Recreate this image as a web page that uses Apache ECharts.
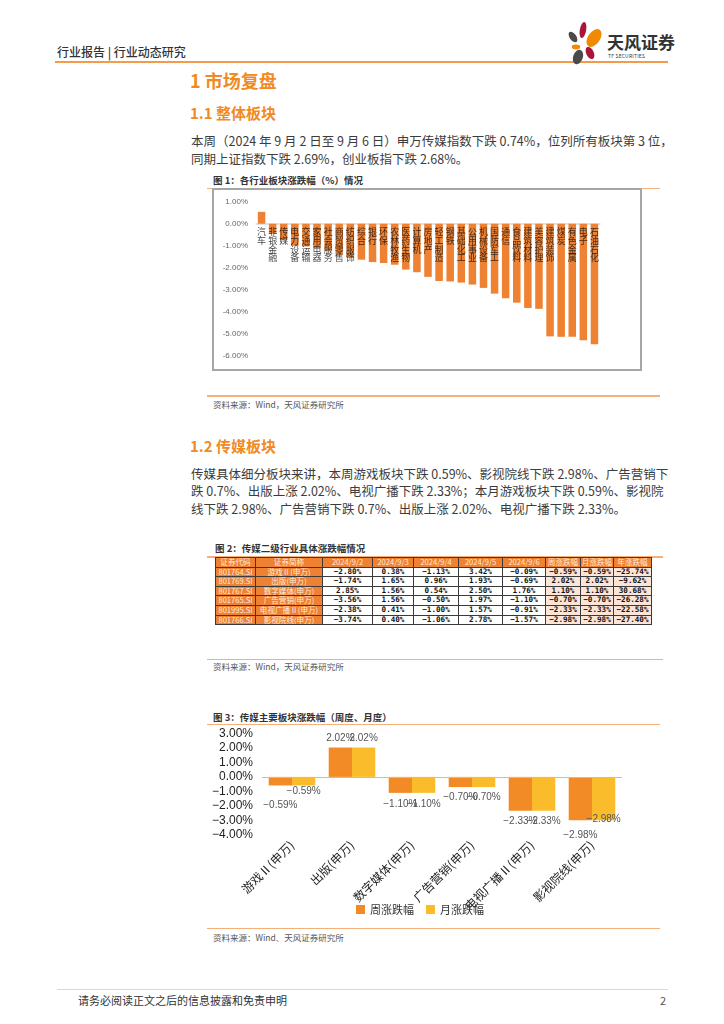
<!DOCTYPE html>
<html><head><meta charset="utf-8">
<script src="https://cdn.jsdelivr.net/npm/echarts@6/dist/echarts.min.js"></script>
<style>
html,body{margin:0;padding:0;background:#fff;}
body{width:724px;height:1024px;position:relative;overflow:hidden;font-family:"Noto Sans CJK SC","Noto Sans",sans-serif;color:#333;}
.abs{position:absolute;white-space:nowrap;}
.h1{color:#F08A24;font-weight:bold;font-size:18px;line-height:20px;}
.h2{color:#F08A24;font-weight:bold;font-size:15px;line-height:18px;}
.p{font-size:12.5px;line-height:18px;color:#3c3c3c;}
.just{text-align:justify;text-align-last:justify;}
.cap{font-size:9.5px;font-weight:bold;line-height:12px;color:#333;}
.src{font-size:8.5px;line-height:12px;color:#555;}
.oline{position:absolute;height:1.5px;background:#F5B07A;}
table{border-collapse:collapse;table-layout:fixed;font-size:7.6px;}
td{border:0.8px solid #3a3a3a;height:8.6px;line-height:8.6px;padding:0;text-align:center;overflow:hidden;white-space:nowrap;}
td.o{background:#EE8132;color:#FDEBDD;}
td.w{background:#fff;color:#111;font-weight:bold;font-family:"DejaVu Sans Mono",monospace;}
td.k{background:#FCE4D6;color:#111;font-weight:bold;font-family:"DejaVu Sans Mono",monospace;}
</style></head>
<body>
<!-- header -->
<div class="abs" style="left:57px;top:44px;font-size:12px;line-height:16px;color:#333;font-weight:500;">行业报告 | 行业动态研究</div>
<div class="abs" style="left:55px;top:61px;width:613px;height:2px;background:#F39A4C;"></div>
<svg class="abs" style="left:564px;top:18px" width="44" height="48" viewBox="564 18 44 48">
  <ellipse cx="583" cy="30" rx="3.2" ry="8" fill="#A8163A" transform="rotate(10 583 30)"/>
  <ellipse cx="594" cy="38" rx="6" ry="10" fill="#F08A00" transform="rotate(35 594 38)"/>
  <ellipse cx="573" cy="37" rx="3.3" ry="6" fill="#4A4A4A" transform="rotate(-35 573 37)"/>
  <ellipse cx="576" cy="47" rx="4.2" ry="2.4" fill="#F08A00"/>
  <ellipse cx="590" cy="53" rx="3.8" ry="6.5" fill="#A8163A" transform="rotate(-25 590 53)"/>
  <ellipse cx="578" cy="57" rx="4.8" ry="7.5" fill="#4A4A4A" transform="rotate(20 578 57)"/>
</svg>
<div class="abs" style="left:607px;top:32px;font-size:17px;line-height:20px;font-weight:bold;color:#333;">天风证券</div>
<div class="abs" style="left:608px;top:53px;font-size:5px;line-height:6px;color:#333;letter-spacing:0.2px;">TF SECURITIES</div>

<!-- section 1 -->
<div class="abs h1" style="left:190px;top:70px;">1 市场复盘</div>
<div class="abs h2" style="left:190px;top:104px;">1.1 整体板块</div>
<div class="abs p just" style="left:191px;top:132px;width:466px;">本周（2024 年 9 月 2 日至 9 月 6 日）申万传媒指数下跌 0.74%，位列所有板块第 3 位，</div>
<div class="abs p" style="left:191px;top:149.5px;">同期上证指数下跌 2.69%，创业板指下跌 2.68%。</div>

<div class="abs cap" style="left:213px;top:174px;">图 1：各行业板块涨跌幅（%）情况</div>
<div class="oline" style="left:207px;top:187.5px;width:453px;"></div>
<div class="abs" style="left:212px;top:188px;width:426px;height:179px;border:2px solid #A6A6A6;background:#fff;"></div>
<div id="c1" class="abs" style="left:214px;top:190px;width:426px;height:179px;"></div>
<div class="oline" style="left:207px;top:395px;width:453px;"></div>
<div class="abs src" style="left:213px;top:397.5px;">资料来源：Wind，天风证券研究所</div>

<!-- section 1.2 -->
<div class="abs h2" style="left:190px;top:437px;">1.2 传媒板块</div>
<div class="abs p just" style="left:191px;top:464.5px;width:466px;">传媒具体细分板块来讲，本周游戏板块下跌 0.59%、影视院线下跌 2.98%、广告营销下</div>
<div class="abs p just" style="left:191px;top:482px;width:466px;">跌 0.7%、出版上涨 2.02%、电视广播下跌 2.33%；本月游戏板块下跌 0.59%、影视院</div>
<div class="abs p" style="left:191px;top:499.5px;">线下跌 2.98%、广告营销下跌 0.7%、出版上涨 2.02%、电视广播下跌 2.33%。</div>

<div class="abs cap" style="left:215px;top:542px;">图 2：传媒二级行业具体涨跌幅情况</div>
<div class="oline" style="left:207px;top:556px;width:456px;"></div>
<div id="tbl" class="abs" style="left:215px;top:557px;"></div>
<div class="oline" style="left:207px;top:658.5px;width:456px;"></div>
<div class="abs src" style="left:213px;top:660px;">资料来源：Wind，天风证券研究所</div>

<div class="abs cap" style="left:213px;top:711px;">图 3：传媒主要板块涨跌幅（周度、月度）</div>
<div class="oline" style="left:207px;top:723.5px;width:453px;"></div>
<div id="c3" class="abs" style="left:200px;top:726px;width:440px;height:200px;"></div>
<div class="oline" style="left:207px;top:927.5px;width:453px;"></div>
<div class="abs src" style="left:213px;top:931px;">资料来源：Wind、天风证券研究所</div>

<!-- footer -->
<div class="abs" style="left:57px;top:989px;width:611px;height:1px;background:#D9D9D9;"></div>
<div class="abs" style="left:78px;top:992px;font-size:11px;line-height:16px;color:#333;">请务必阅读正文之后的信息披露和免责申明</div>
<div class="abs" style="left:660px;top:992px;font-size:11px;line-height:16px;color:#555;">2</div>

<script>
// ---- Figure 1 data ----
var industries = ['汽车','非银金融','传媒','电力设备','交通运输','家用电器','社会服务','商贸零售','纺织服饰','综合','银行','环保','农林牧渔','医药生物','计算机','房地产','轻工制造','钢铁','基础化工','公用事业','机械设备','国防军工','通信','食品饮料','建筑材料','美容护理','建筑装饰','煤炭','有色金属','电子','石油石化'];
var industryChange = [0.54,-0.45,-0.74,-1.00,-1.03,-1.10,-1.22,-1.40,-1.55,-1.63,-1.74,-1.78,-1.86,-2.08,-2.20,-2.41,-2.60,-2.62,-2.67,-2.76,-2.91,-3.17,-3.38,-3.58,-3.82,-3.86,-5.11,-5.13,-5.13,-5.29,-5.47];

// ---- Figure 2 table data ----
var tableHeader = ['证券代码','证券简称','2024/9/2','2024/9/3','2024/9/4','2024/9/5','2024/9/6','周涨跌幅','月涨跌幅','年涨跌幅'];
var codes = ['801764.SI','801769.SI','801767.SI','801765.SI','801995.SI','801766.SI'];
var shortNames = ['游戏Ⅱ(申万)','出版(申万)','数字媒体(申万)','广告营销(申万)','电视广播Ⅱ(申万)','影视院线(申万)'];
var d0902 = ['-2.80%','-1.74%','2.85%','-3.56%','-2.38%','-3.74%'];
var d0903 = ['0.38%','1.65%','1.56%','1.56%','0.41%','0.40%'];
var d0904 = ['-1.13%','0.96%','0.54%','-0.50%','-1.00%','-1.06%'];
var d0905 = ['3.42%','1.93%','2.50%','1.97%','1.57%','2.78%'];
var d0906 = ['-0.09%','-0.69%','1.76%','-1.10%','-0.91%','-1.57%'];
var weekChg = ['-0.59%','2.02%','1.10%','-0.70%','-2.33%','-2.98%'];
var monthChg = ['-0.59%','2.02%','1.10%','-0.70%','-2.33%','-2.98%'];
var yearChg = ['-25.74%','-9.62%','30.68%','-26.28%','-22.58%','-27.40%'];

// ---- Figure 3 data ----
var sectors = ['游戏Ⅱ(申万)','出版(申万)','数字媒体(申万)','广告营销(申万)','电视广播Ⅱ(申万)','影视院线(申万)'];
var weekly = [-0.59,2.02,-1.10,-0.70,-2.33,-2.98];
var monthly = [-0.59,2.02,-1.10,-0.70,-2.33,-2.98];

// label distances (styling only)
var weekLabelDist = [15,4,6,5.5,6,10];
var monthLabelDist = [1,4,6,5.5,6,-6];

// build table
(function(){
  var colW = [40,67,50,41,45,44,43,35,33,38];
  var h = '<table style="width:436px"><colgroup>';
  colW.forEach(function(w){ h += '<col style="width:'+w+'px">'; });
  h += '</colgroup><tr>';
  tableHeader.forEach(function(t){ h += '<td class="o">'+t+'</td>'; });
  h += '</tr>';
  function fm(s){ return s.replace('-','−'); }
  for (var i=0;i<codes.length;i++){
    h += '<tr><td class="o">'+codes[i]+'</td><td class="o">'+shortNames[i]+'</td>';
    [d0902,d0903,d0904,d0905,d0906].forEach(function(a){ h += '<td class="w">'+fm(a[i])+'</td>'; });
    [weekChg,monthChg,yearChg].forEach(function(a){ h += '<td class="k">'+fm(a[i])+'</td>'; });
    h += '</tr>';
  }
  h += '</table>';
  document.getElementById('tbl').innerHTML = h;
})();

var cjk = '"Noto Sans CJK SC","Noto Sans",sans-serif';

// chart 1
var c1 = echarts.init(document.getElementById('c1'));
c1.setOption({
  animation:false,
  grid:{left:42,top:11.7,width:344,height:154.3,containLabel:false},
  xAxis:{type:'category',data:industries,
    axisLine:{onZero:true,lineStyle:{color:'#D9D9D9',width:1.5}},
    axisTick:{show:false},
    axisLabel:{show:false}},
  yAxis:{type:'value',min:-6,max:1,interval:1,
    axisLine:{show:false},axisTick:{show:false},splitLine:{show:false},
    axisLabel:{margin:8,fontSize:8,color:'#666',fontFamily:'Liberation Sans, Arial',
      formatter:function(v){return v.toFixed(2)+'%';}}},
  series:[
    {type:'bar',data:industryChange,barWidth:7.5,itemStyle:{color:'#EE8132'},z:1},
    {type:'scatter',data:industries.map(function(n){return [n,0];}),symbolSize:0,z:5,silent:true,
      label:{show:true,position:'bottom',distance:4,fontSize:9,lineHeight:8.6,color:'#111',fontFamily:cjk,
        formatter:function(p){return p.name.split('').join('\n');}}}
  ]
});

// chart 3
var c3 = echarts.init(document.getElementById('c3'));
function mk(vals,dists){
  return vals.map(function(v,i){
    return {value:v,label:{position:v>=0?'top':'bottom',distance:dists[i]}};
  });
}
function fmtPct(p){ return p.value.toFixed(2).replace('-','−')+'%'; }
c3.setOption({
  animation:false,
  grid:{left:62,top:7.3,width:360,height:101.7},
  legend:{bottom:6,left:'center',itemWidth:9,itemHeight:9,itemGap:12,icon:'rect',
    textStyle:{fontSize:11,color:'#333',fontFamily:cjk},data:['周涨跌幅','月涨跌幅']},
  xAxis:{type:'category',data:sectors,
    axisLine:{show:false,onZero:false},axisTick:{show:false},
    axisLabel:{interval:0,rotate:45,margin:8,fontSize:12,color:'#222',fontFamily:cjk}},
  yAxis:{type:'value',min:-4,max:3,interval:1,
    axisLine:{show:false},axisTick:{show:false},splitLine:{show:false},
    axisLabel:{margin:9,fontSize:12,color:'#222',fontFamily:'Liberation Sans, Arial',
      formatter:function(v){return v.toFixed(2).replace('-','−')+'%';}}},
  series:[
    {name:'周涨跌幅',type:'bar',data:mk(weekly,weekLabelDist),barWidth:23.3,barGap:'0%',
      itemStyle:{color:'#F28A26'},
      label:{show:true,fontSize:10,color:'#555',fontFamily:'Liberation Sans, Arial',formatter:fmtPct},
      markLine:{silent:true,symbol:'none',label:{show:false},lineStyle:{color:'#BFBFBF',type:'solid',width:1},data:[{yAxis:0}]}},
    {name:'月涨跌幅',type:'bar',data:mk(monthly,monthLabelDist),barWidth:23.3,
      itemStyle:{color:'#FBBC2C'},
      label:{show:true,fontSize:10,color:'#555',fontFamily:'Liberation Sans, Arial',formatter:fmtPct}}
  ]
});
</script>
</body></html>
